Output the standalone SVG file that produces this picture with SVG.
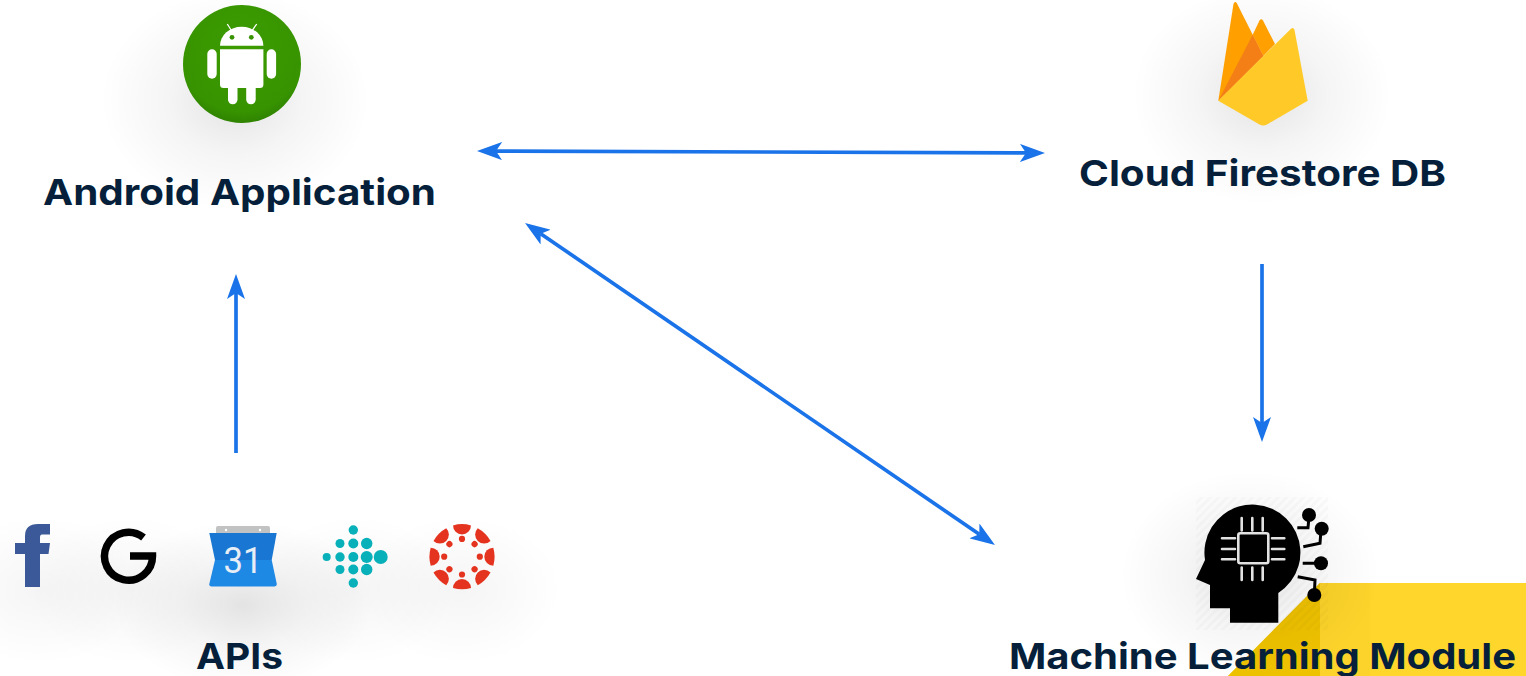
<svg xmlns="http://www.w3.org/2000/svg" xmlns:xlink="http://www.w3.org/1999/xlink" width="1526" height="676" viewBox="0 0 1526 676">
<style>
.label{font-family:"Inter","Liberation Sans",sans-serif;font-weight:700;font-size:36px;fill:#061f3a}
.conn{stroke:#1a73e8;stroke-width:3.7;fill:none}
.pin{stroke:#e2e2e2;stroke-width:2.6;stroke-linecap:round;fill:none}
.wire{stroke:#000;stroke-width:3;fill:none}
.teal{fill:#08b0b9}
.red{fill:#e4341f}
</style>
<defs>
<marker id="tip" viewBox="0 0 25 18" refX="6" refY="9" markerWidth="25" markerHeight="18" markerUnits="userSpaceOnUse" orient="auto-start-reverse"><path d="M25 9L0 0L6 9L0 18Z" fill="#1a73e8"/></marker>
<radialGradient id="sh"><stop offset="0" stop-color="#000" stop-opacity=".11"/><stop offset=".5" stop-color="#000" stop-opacity=".04"/><stop offset="1" stop-color="#000" stop-opacity="0"/></radialGradient>
<radialGradient id="sh2"><stop offset="0" stop-color="#000" stop-opacity=".04"/><stop offset="1" stop-color="#000" stop-opacity="0"/></radialGradient>
<radialGradient id="green" cx=".5" cy=".35" r=".65"><stop offset="0" stop-color="#3c9c00"/><stop offset=".85" stop-color="#379300"/><stop offset="1" stop-color="#2f8300"/></radialGradient>
<pattern id="hatch" width="6" height="6" patternUnits="userSpaceOnUse" patternTransform="rotate(-45)"><rect width="6" height="3" fill="#000" opacity=".02"/></pattern>
<path id="seg" d="M-9-31.300A32.500 32.500 0 0 1 9-31.300A9 9 0 0 1-9-31.300Z" class="red"/>
<circle id="dot" cx="0" cy="-17.800" r="3.100" class="red"/>
</defs>

<g id="decor">
<polygon points="1320,583 1526,583 1526,676 1228,676" fill="#ffd62b"/>
<polygon points="1320,583 1320,676 1228,676" fill="#efc200"/>
<rect x="1320" y="583" width="50" height="93" fill="#000" opacity=".012"/>
</g>

<g id="android">
<ellipse cx="235" cy="100" rx="135" ry="110" fill="url(#sh)"/>
<circle cx="242" cy="64" r="59" fill="url(#green)"/>
<g fill="#fff">
<path d="M220 45.700A21.700 19 0 0 1 263.400 45.700Z"/>
<path d="M220 49.300H263.400V84.500A3.500 3.500 0 0 1 259.900 88H223.500A3.500 3.500 0 0 1 220 84.500Z"/>
<rect x="207.300" y="49.300" width="9.400" height="29.400" rx="4.700"/>
<rect x="266.700" y="49.300" width="9.400" height="29.400" rx="4.700"/>
<rect x="228" y="80" width="9.500" height="24.300" rx="4.700"/>
<rect x="246.200" y="80" width="9.500" height="24.300" rx="4.700"/>
<path d="M227.300 24L232 31.500M256.700 24L251.500 31.500" stroke="#fff" stroke-width="1.300"/>
</g>
<circle cx="232" cy="37.300" r="2.400" fill="#379300"/>
<circle cx="251.300" cy="37.300" r="2.400" fill="#379300"/>
<text class="label" x="43" y="205" textLength="393" lengthAdjust="spacingAndGlyphs">Android Application</text>
</g>

<g id="firestore">
<ellipse cx="1262" cy="95" rx="130" ry="110" fill="url(#sh)"/>
<path d="M1218.300 100.700L1233.500 4Q1235 0.500 1237 3.500L1252.700 34.700L1263.300 56Z" fill="#ffa000"/>
<path d="M1252.700 34.700L1259.500 20.500Q1261.300 18 1263 20.500L1275 44L1263.300 56Z" fill="#ffa000"/>
<path d="M1218.300 100.700L1252.700 34.700L1263.300 56Z" fill="#f57f17"/>
<path d="M1218.300 100.700L1291 28.800Q1293.500 26.800 1294.500 30L1307.700 100.700L1267 124.500Q1263.300 126.300 1259.500 124.500Z" fill="#ffca28"/>
<text class="label" x="1079" y="186" textLength="367" lengthAdjust="spacingAndGlyphs">Cloud Firestore DB</text>
</g>

<g id="apis">
<ellipse cx="243" cy="605" rx="130" ry="85" fill="url(#sh)"/>
<ellipse cx="40" cy="590" rx="100" ry="75" fill="url(#sh2)"/>
<ellipse cx="130" cy="590" rx="100" ry="75" fill="url(#sh2)"/>
<ellipse cx="355" cy="590" rx="100" ry="75" fill="url(#sh2)"/>
<ellipse cx="462" cy="590" rx="100" ry="75" fill="url(#sh2)"/>
<path d="M25 587V554H15V543H25V536Q25 524 38 524H50V534.500H42Q40 534.500 40 537.500V543H50L48.500 554H40V587Z" fill="#3b5998"/>
<path d="M143.500 537.500A24 24 0 1 0 152.500 556H130" fill="none" stroke="#000" stroke-width="7.500"/>
<rect x="216" y="526" width="54" height="10" rx="2" fill="#c2c2c2"/>
<circle cx="226" cy="530" r="1.200" fill="#fff"/><circle cx="260" cy="530" r="1.200" fill="#fff"/>
<path d="M209.300 533H276.700L271.700 560H215Z" fill="#1976d2"/>
<path d="M215 560H271.700L276.800 584Q277 586.500 274.500 586.500H211.500Q209 586.500 209.300 584Z" fill="#1e88e5"/>
<text x="243" y="573" text-anchor="middle" font-family="Roboto,'Liberation Sans',sans-serif" font-size="36" fill="#e8eef5" textLength="39" lengthAdjust="spacingAndGlyphs">31</text>
<g class="teal">
<circle cx="353.300" cy="530" r="4.700"/>
<circle cx="340" cy="543.500" r="4.500"/><circle cx="353.300" cy="543.500" r="5"/><circle cx="366.700" cy="543.500" r="5.700"/>
<circle cx="326.700" cy="557" r="4"/><circle cx="340" cy="557" r="4.700"/><circle cx="353.300" cy="557" r="5"/><circle cx="366.700" cy="557" r="6"/><circle cx="380.700" cy="557" r="7"/>
<circle cx="340" cy="569.500" r="4.500"/><circle cx="353.300" cy="569.500" r="5"/><circle cx="366.700" cy="569.500" r="5.700"/>
<circle cx="353.300" cy="583" r="4.700"/>
</g>
<g transform="translate(462 556.700)">
<use xlink:href="#seg"/><use xlink:href="#seg" transform="rotate(45)"/><use xlink:href="#seg" transform="rotate(90)"/><use xlink:href="#seg" transform="rotate(135)"/><use xlink:href="#seg" transform="rotate(180)"/><use xlink:href="#seg" transform="rotate(225)"/><use xlink:href="#seg" transform="rotate(270)"/><use xlink:href="#seg" transform="rotate(315)"/>
<use xlink:href="#dot"/><use xlink:href="#dot" transform="rotate(45)"/><use xlink:href="#dot" transform="rotate(90)"/><use xlink:href="#dot" transform="rotate(135)"/><use xlink:href="#dot" transform="rotate(180)"/><use xlink:href="#dot" transform="rotate(225)"/><use xlink:href="#dot" transform="rotate(270)"/><use xlink:href="#dot" transform="rotate(315)"/>
</g>
<text class="label" x="196" y="669" textLength="87" lengthAdjust="spacingAndGlyphs">APIs</text>
</g>

<g id="ml">
<ellipse cx="1250" cy="575" rx="130" ry="105" fill="url(#sh)"/>
<rect x="1196" y="497" width="132" height="133" fill="url(#hatch)"/>
<path d="M1205 560A48 48 0 1 1 1278.300 593V622.700H1230V608.300H1210V585L1196 579Z" fill="#000"/>
<rect x="1238.300" y="533.300" width="30" height="30" rx="2" fill="none" stroke="#e2e2e2" stroke-width="2.600"/>
<path class="pin" d="M1222 538.300H1235M1222 549H1235M1222 559.300H1235M1272 538.300H1284.300M1272 549H1284.300M1272 559.300H1284.300M1241.700 518V530.500M1252.300 518V530.500M1262.700 518V530.500M1241.700 567.500V580M1252.300 567.500V580M1262.700 567.500V580"/>
<path class="wire" d="M1297.300 527.700H1308L1309 517M1303.300 546.700L1320 543.300L1321 530M1302.700 563.300H1321M1297.700 576.700L1315 580L1314.300 595"/>
<circle cx="1309" cy="515" r="7"/><circle cx="1321.700" cy="528.700" r="7"/><circle cx="1321" cy="563.300" r="7"/><circle cx="1314.300" cy="595" r="7"/>
<text class="label" x="1009" y="669" textLength="507" lengthAdjust="spacingAndGlyphs">Machine Learning Module</text>
</g>

<g id="connectors">
<line class="conn" x1="496" y1="151.070" x2="1026" y2="152.930" marker-start="url(#tip)" marker-end="url(#tip)"/>
<line class="conn" x1="540.700" y1="233.700" x2="979.300" y2="534.300" marker-start="url(#tip)" marker-end="url(#tip)"/>
<line class="conn" x1="236" y1="453" x2="236" y2="293" marker-end="url(#tip)"/>
<line class="conn" x1="1262" y1="264" x2="1262" y2="423" marker-end="url(#tip)"/>
</g>
</svg>
